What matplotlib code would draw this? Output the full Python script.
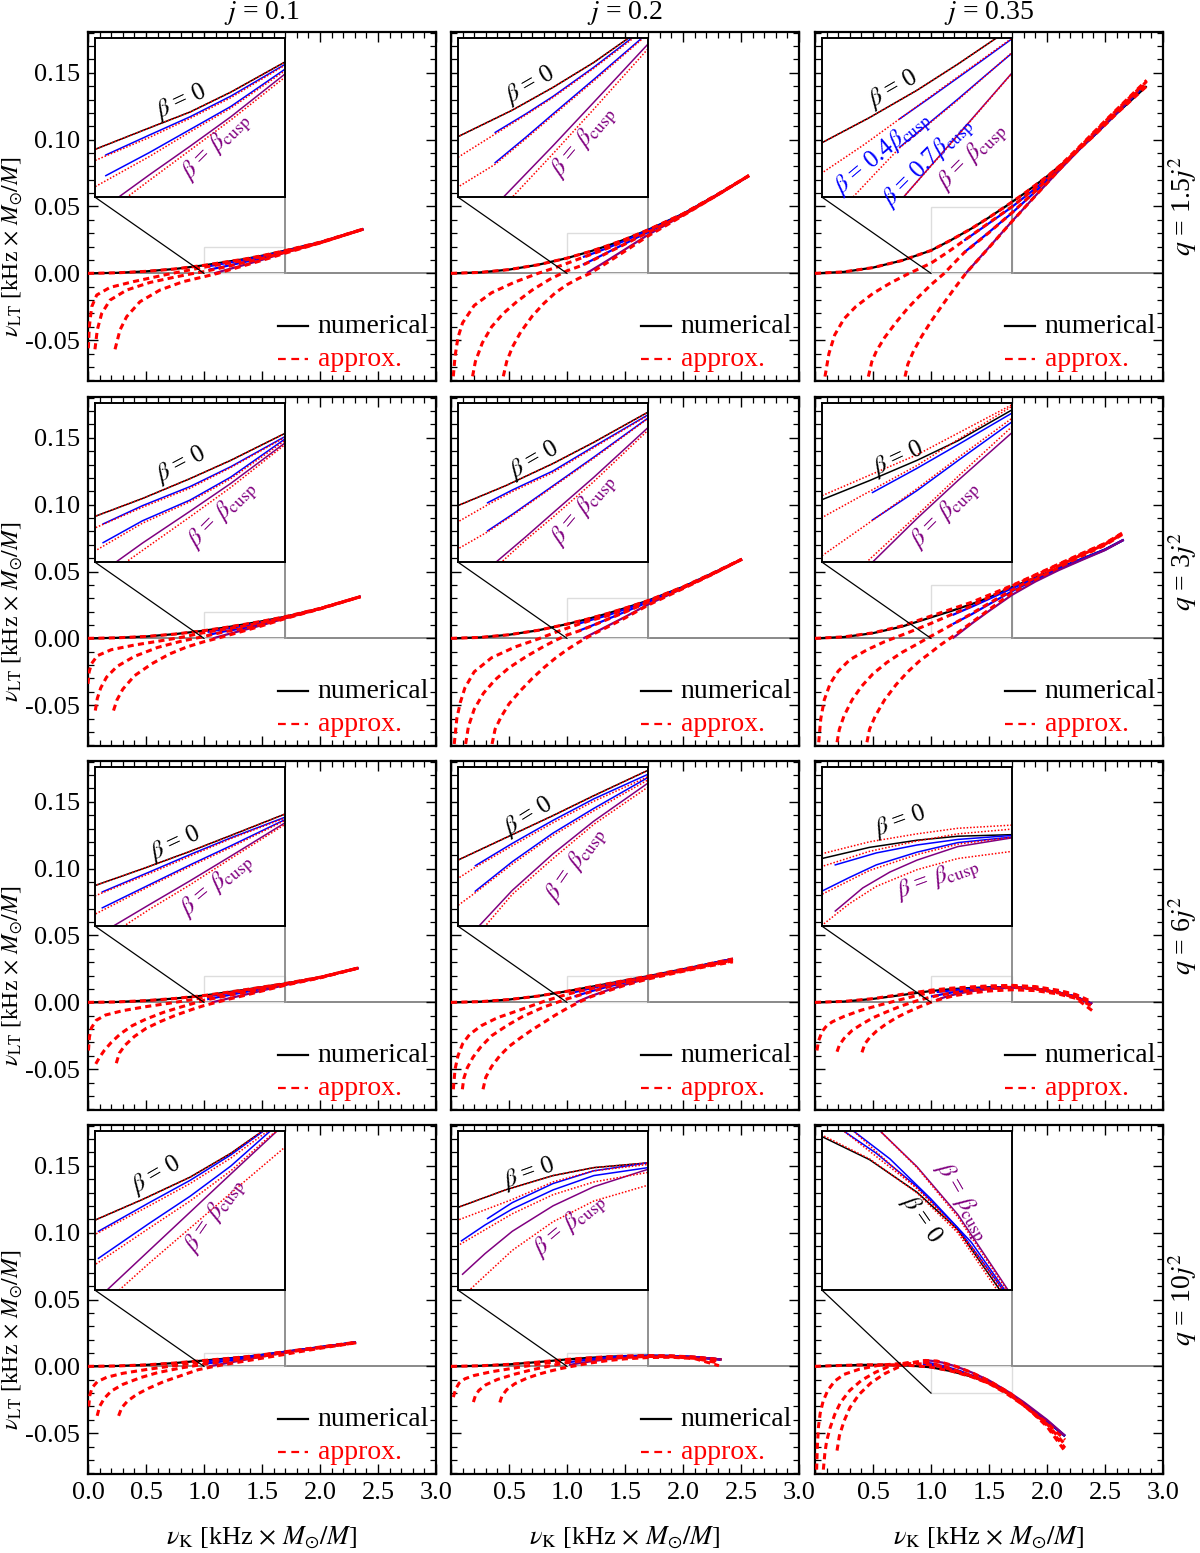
import matplotlib
matplotlib.use('Agg')
import matplotlib.pyplot as plt
from matplotlib.ticker import MultipleLocator, FuncFormatter
from matplotlib.patches import Rectangle
import numpy as np

plt.rcParams['font.family'] = ['Liberation Serif', 'DejaVu Serif']
plt.rcParams['mathtext.fontset'] = 'stix'
plt.rcParams['axes.unicode_minus'] = False

# ---------------- data (nu_K, nu_LT) ----------------
COL_TITLES = [r'$j$ = 0.1', r'$j$ = 0.2', r'$j$ = 0.35']
ROW_TITLES = [r'$q$ = 1.5$j^2$', r'$q$ = 3$j^2$', r'$q$ = 6$j^2$', r'$q$ = 10$j^2$']
YTICKS = [-0.05, 0.0, 0.05, 0.10, 0.15]
XTICKS = [0.0, 0.5, 1.0, 1.5, 2.0, 2.5, 3.0]

# ---- row 1: q = 1.5 j^2 ----
P11_N0 = [(0,0),(0.25,0.0004),(0.5,0.0015),(0.75,0.0033),(1.0,0.0060),(1.2,0.0087),(1.35,0.0107),(1.5,0.0132),(1.7,0.0170),(2.0,0.0233),(2.374,0.0331)]
P11_N1 = [(1.04,0.0053),(1.2,0.0078),(1.35,0.0101),(1.5,0.0127),(1.7,0.0167),(2.0,0.0231),(2.374,0.0331)]
P11_N2 = [(1.04,0.0027),(1.2,0.0056),(1.35,0.0085),(1.5,0.0114),(1.7,0.0161),(2.0,0.0229),(2.374,0.0331)]
P11_N3 = [(1.087,0.0),(1.2,0.0028),(1.35,0.0064),(1.5,0.0101),(1.7,0.0155),(2.0,0.0228),(2.374,0.0331)]
P11_A0 = P11_N0
P11_A1 = [(0.003,-0.056),(0.011,-0.040),(0.032,-0.025),(0.075,-0.0162),(0.19,-0.0105),(0.39,-0.0062),(0.68,-0.0008),(0.85,0.0021),(1.0,0.0046),(1.2,0.0075),(1.35,0.0099),(1.5,0.0125),(1.7,0.0166),(2.0,0.0230),(2.374,0.0331)]
P11_A2 = [(0.06,-0.0568),(0.08,-0.0423),(0.118,-0.030),(0.19,-0.020),(0.333,-0.0125),(0.534,-0.0068),(0.764,-0.0025),(0.9,-0.0002),(1.0,0.0013),(1.2,0.0051),(1.35,0.0082),(1.5,0.0112),(1.7,0.0159),(2.0,0.0228),(2.374,0.0331)]
P11_A3 = [(0.233,-0.0568),(0.276,-0.0423),(0.333,-0.0324),(0.448,-0.0212),(0.62,-0.0125),(0.82,-0.0062),(1.0,-0.0025),(1.118,0.0),(1.2,0.0021),(1.35,0.0059),(1.5,0.0097),(1.7,0.0151),(2.0,0.0227),(2.374,0.0331)]

P12_N0 = [(0,0),(0.25,0.0007),(0.5,0.0028),(0.75,0.0064),(1.0,0.0114),(1.2,0.0164),(1.35,0.0207),(1.5,0.0254),(1.7,0.0326),(2.0,0.0445),(2.3,0.0592),(2.569,0.0730)]
P12_N1 = [(1.137,0.0122),(1.25,0.0157),(1.35,0.0190),(1.5,0.0245),(1.64,0.0300),(1.7,0.0322),(2.0,0.0443),(2.3,0.0590),(2.569,0.0730)]
P12_N2 = [(1.137,0.0065),(1.25,0.0113),(1.35,0.0157),(1.5,0.0222),(1.677,0.0300),(1.7,0.0310),(2.0,0.0438),(2.3,0.0588),(2.569,0.0730)]
P12_N3 = [(1.171,0.0002),(1.35,0.0097),(1.5,0.0179),(1.7,0.0289),(2.0,0.0435),(2.3,0.0587),(2.569,0.0730)]
P12_A0 = P12_N0
P12_A1 = [(0.02,-0.077),(0.035,-0.062),(0.06,-0.048),(0.1,-0.037),(0.2,-0.024),(0.35,-0.0145),(0.55,-0.0065),(0.75,0.0),(0.9,0.0043),(1.0,0.0075),(1.137,0.0119),(1.25,0.0155),(1.35,0.0188),(1.5,0.0243),(1.7,0.0321),(2.0,0.0443),(2.3,0.0590),(2.569,0.0732)]
P12_A2 = [(0.186,-0.077),(0.21,-0.066),(0.27,-0.052),(0.35,-0.040),(0.45,-0.030),(0.57,-0.021),(0.7,-0.0125),(0.85,-0.0045),(1.0,0.0019),(1.137,0.0062),(1.25,0.0110),(1.35,0.0154),(1.5,0.0219),(1.7,0.0308),(2.0,0.0437),(2.3,0.0588),(2.569,0.0732)]
P12_A3 = [(0.451,-0.077),(0.48,-0.066),(0.53,-0.055),(0.6,-0.044),(0.7,-0.032),(0.8,-0.0225),(0.9,-0.0145),(1.0,-0.0085),(1.1,-0.0038),(1.2,0.0),(1.35,0.0082),(1.5,0.0166),(1.7,0.0280),(2.0,0.0432),(2.3,0.0587),(2.569,0.0732)]

P13_N0 = [(0,0),(0.25,0.0011),(0.5,0.0043),(0.75,0.0096),(1.0,0.0171),(1.175,0.0250),(1.35,0.0336),(1.5,0.0418),(1.642,0.0500),(1.8,0.0595),(2.0,0.0725),(2.2,0.0868),(2.4,0.1025),(2.6,0.1195),(2.859,0.1400)]
P13_N1 = [(1.286,0.0246),(1.4,0.0314),(1.5,0.0375),(1.6,0.0436),(1.7,0.0498),(1.9,0.0635),(2.1,0.0785),(2.3,0.0950),(2.5,0.1115),(2.80,0.1370)]
P13_N2 = [(1.286,0.0157),(1.4,0.0237),(1.5,0.0308),(1.6,0.0381),(1.7,0.0453),(1.9,0.0612),(2.1,0.0775),(2.3,0.0945),(2.5,0.1112),(2.80,0.1368)]
P13_N3 = [(1.30,0.0),(1.4,0.0098),(1.5,0.0195),(1.6,0.0293),(1.7,0.0391),(1.9,0.0580),(2.1,0.0765),(2.3,0.0945),(2.5,0.1112),(2.79,0.1365)]
P13_A0 = P13_N0
P13_A1 = [(0.086,-0.0772),(0.12,-0.060),(0.17,-0.046),(0.25,-0.034),(0.35,-0.025),(0.5,-0.0150),(0.65,-0.0072),(0.8,-0.0005),(1.0,0.0076),(1.15,0.0162),(1.286,0.0246),(1.5,0.0378),(1.7,0.0500),(1.9,0.0640),(2.1,0.0795),(2.3,0.0965),(2.5,0.1140),(2.7,0.1310),(2.859,0.1444)]
P13_A2 = [(0.46,-0.0772),(0.49,-0.066),(0.53,-0.058),(0.6,-0.048),(0.7,-0.0365),(0.8,-0.026),(0.9,-0.017),(1.0,-0.0085),(1.114,0.0),(1.2,0.0078),(1.286,0.0155),(1.5,0.0305),(1.7,0.0455),(1.9,0.0615),(2.1,0.0785),(2.3,0.0960),(2.5,0.1135),(2.7,0.1305),(2.859,0.1435)]
P13_A3 = [(0.776,-0.0772),(0.8,-0.068),(0.85,-0.058),(0.92,-0.047),(1.0,-0.036),(1.1,-0.0235),(1.2,-0.0115),(1.3,0.0),(1.5,0.0193),(1.7,0.0390),(1.9,0.0580),(2.1,0.0770),(2.3,0.0950),(2.5,0.1125),(2.7,0.1295),(2.859,0.1425)]

# ---- row 2: q = 3 j^2 ----
P21_N0 = [(0,0),(0.25,0.0004),(0.5,0.0014),(0.75,0.0032),(1.0,0.00575),(1.175,0.0080),(1.35,0.0105),(1.5,0.0128),(1.7,0.0162),(2.0,0.0224),(2.35,0.0312)]
P21_N1 = [(1.03,0.0048),(1.175,0.0071),(1.35,0.0095),(1.5,0.0120),(1.7,0.0158),(2.0,0.0222),(2.35,0.0312)]
P21_N2 = [(1.03,0.00245),(1.175,0.0052),(1.35,0.0078),(1.5,0.0107),(1.7,0.0155),(2.0,0.0221),(2.35,0.0312)]
P21_N3 = [(1.077,0.0),(1.175,0.0024),(1.35,0.0064),(1.5,0.0099),(1.7,0.0150),(2.0,0.0221),(2.35,0.0312)]
P21_A0 = P21_N0
P21_A1 = [(0.0,-0.034),(0.01,-0.025),(0.03,-0.019),(0.08,-0.013),(0.2,-0.0085),(0.4,-0.0050),(0.6,-0.0022),(0.8,0.0007),(1.0,0.0043),(1.175,0.0069),(1.35,0.0093),(1.5,0.0119),(1.7,0.0157),(2.0,0.0222),(2.35,0.0312)]
P21_A2 = [(0.063,-0.054),(0.08,-0.045),(0.11,-0.037),(0.16,-0.029),(0.25,-0.021),(0.4,-0.0135),(0.6,-0.0068),(0.8,-0.0022),(1.0,0.0014),(1.175,0.0049),(1.35,0.0076),(1.5,0.0105),(1.7,0.0153),(2.0,0.0221),(2.35,0.0312)]
P21_A3 = [(0.22,-0.054),(0.25,-0.046),(0.3,-0.038),(0.4,-0.028),(0.55,-0.019),(0.7,-0.0118),(0.85,-0.0065),(1.0,-0.0025),(1.114,0.0),(1.35,0.0057),(1.5,0.0094),(1.7,0.0148),(2.0,0.0220),(2.35,0.0312)]

P22_N0 = [(0,0),(0.25,0.0007),(0.5,0.0027),(0.75,0.0060),(1.0,0.01066),(1.175,0.0144),(1.35,0.0186),(1.5,0.0226),(1.7,0.0283),(2.0,0.0385),(2.25,0.0485),(2.508,0.0592)]
P22_N1 = [(1.109,0.0112),(1.2,0.0136),(1.35,0.0172),(1.5,0.0218),(1.7,0.0278),(2.0,0.0381),(2.25,0.0482),(2.508,0.0592)]
P22_N2 = [(1.109,0.0059),(1.2,0.0090),(1.35,0.0144),(1.5,0.0198),(1.7,0.0272),(2.0,0.0378),(2.25,0.0480),(2.508,0.0592)]
P22_N3 = [(1.14,0.0),(1.25,0.0048),(1.35,0.0093),(1.5,0.0160),(1.7,0.0254),(2.0,0.0375),(2.25,0.0478),(2.508,0.0592)]
P22_A0 = P22_N0
P22_A1 = [(0.028,-0.079),(0.05,-0.060),(0.08,-0.048),(0.12,-0.037),(0.2,-0.025),(0.35,-0.0145),(0.55,-0.0065),(0.75,-0.0005),(0.9,0.0045),(1.0,0.0076),(1.109,0.0108),(1.2,0.0133),(1.35,0.0169),(1.5,0.0216),(1.7,0.0277),(2.0,0.0381),(2.25,0.0482),(2.508,0.0592)]
P22_A2 = [(0.126,-0.079),(0.15,-0.066),(0.2,-0.053),(0.28,-0.041),(0.38,-0.031),(0.5,-0.022),(0.65,-0.0135),(0.8,-0.006),(0.9,-0.0015),(1.0,0.0025),(1.109,0.0057),(1.2,0.0088),(1.35,0.0142),(1.5,0.0196),(1.7,0.0271),(2.0,0.0378),(2.25,0.0480),(2.508,0.0592)]
P22_A3 = [(0.354,-0.079),(0.38,-0.068),(0.43,-0.059),(0.5,-0.049),(0.6,-0.039),(0.7,-0.030),(0.8,-0.022),(0.9,-0.0148),(1.0,-0.0085),(1.08,-0.0040),(1.16,0.0),(1.25,0.0042),(1.35,0.0085),(1.5,0.0152),(1.7,0.0249),(2.0,0.0372),(2.25,0.0477),(2.508,0.0592)]

P23_N0 = [(0,0),(0.25,0.0010),(0.5,0.0039),(0.75,0.0088),(1.0,0.0157),(1.175,0.0205),(1.35,0.0256),(1.5,0.0305),(1.7,0.0383),(1.9,0.0455),(2.1,0.0525),(2.3,0.0595),(2.5,0.0665),(2.661,0.0737)]
P23_N1 = [(1.186,0.0175),(1.35,0.0236),(1.5,0.0295),(1.7,0.0375),(1.9,0.0450),(2.1,0.0522),(2.3,0.0593),(2.5,0.0664),(2.661,0.0737)]
P23_N2 = [(1.186,0.0106),(1.35,0.0180),(1.5,0.0255),(1.7,0.0353),(1.9,0.0440),(2.1,0.0517),(2.3,0.0590),(2.5,0.0662),(2.661,0.0737)]
P23_N3 = [(1.186,0.0),(1.35,0.0110),(1.5,0.0205),(1.7,0.0326),(1.9,0.0425),(2.1,0.0510),(2.3,0.0586),(2.5,0.0660),(2.661,0.0737)]
P23_A0 = [(0,0),(0.25,0.0011),(0.5,0.0041),(0.75,0.0093),(1.0,0.0167),(1.35,0.0270),(1.7,0.0396),(1.9,0.0475),(2.1,0.0555),(2.3,0.0635),(2.5,0.0710),(2.647,0.0787)]
P23_A1 = [(0.032,-0.0777),(0.05,-0.060),(0.08,-0.046),(0.13,-0.034),(0.2,-0.0245),(0.3,-0.016),(0.45,-0.0085),(0.6,-0.0025),(0.8,0.0042),(1.0,0.0112),(1.186,0.0182),(1.35,0.0243),(1.5,0.0308),(1.7,0.0392),(1.9,0.0472),(2.1,0.0552),(2.3,0.0632),(2.5,0.0708),(2.647,0.0784)]
P23_A2 = [(0.19,-0.0777),(0.21,-0.068),(0.25,-0.058),(0.32,-0.046),(0.4,-0.036),(0.5,-0.0265),(0.62,-0.018),(0.75,-0.0105),(0.88,-0.0043),(1.0,0.0016),(1.186,0.0105),(1.35,0.0185),(1.5,0.0262),(1.7,0.0362),(1.9,0.0455),(2.1,0.0542),(2.3,0.0625),(2.5,0.0703),(2.647,0.0780)]
P23_A3 = [(0.448,-0.0777),(0.47,-0.068),(0.52,-0.058),(0.6,-0.046),(0.7,-0.0345),(0.8,-0.025),(0.9,-0.017),(1.0,-0.0105),(1.08,-0.005),(1.164,0.0),(1.35,0.0118),(1.5,0.0215),(1.7,0.0341),(1.9,0.0440),(2.1,0.0530),(2.3,0.0615),(2.5,0.0697),(2.647,0.0776)]

# ---- row 3: q = 6 j^2 ----
P31_N0 = [(0,0),(0.25,0.0003),(0.5,0.0013),(0.75,0.0029),(1.0,0.0051),(1.175,0.0072),(1.35,0.0094),(1.5,0.0114),(1.7,0.0141),(2.0,0.0188),(2.331,0.0257)]
P31_N1 = [(1.027,0.0043),(1.2,0.0068),(1.35,0.0090),(1.5,0.0111),(1.7,0.0137),(2.0,0.0186),(2.331,0.0257)]
P31_N2 = [(1.027,0.0023),(1.2,0.0052),(1.35,0.0077),(1.5,0.0101),(1.7,0.0134),(2.0,0.0185),(2.331,0.0257)]
P31_N3 = [(1.067,0.0),(1.2,0.0027),(1.35,0.0057),(1.5,0.0088),(1.7,0.0130),(2.0,0.0184),(2.331,0.0257)]
P31_A0 = P31_N0
P31_A1 = [(0.004,-0.036),(0.012,-0.026),(0.03,-0.019),(0.07,-0.0135),(0.15,-0.0095),(0.3,-0.0062),(0.5,-0.0032),(0.75,0.0),(0.9,0.0021),(1.0,0.0038),(1.2,0.0066),(1.35,0.0088),(1.5,0.0110),(1.7,0.0136),(2.0,0.0186),(2.331,0.0257)]
P31_A2 = [(0.067,-0.046),(0.1,-0.041),(0.14,-0.036),(0.2,-0.030),(0.28,-0.0235),(0.38,-0.0175),(0.5,-0.0125),(0.65,-0.0075),(0.8,-0.0035),(0.9,-0.0010),(1.0,0.0015),(1.2,0.0050),(1.35,0.0075),(1.5,0.0099),(1.7,0.0133),(2.0,0.0185),(2.331,0.0257)]
P31_A3 = [(0.244,-0.0455),(0.27,-0.038),(0.32,-0.032),(0.4,-0.0255),(0.5,-0.0195),(0.62,-0.0145),(0.75,-0.0098),(0.9,-0.0052),(1.0,-0.0024),(1.106,0.0),(1.2,0.0021),(1.35,0.0052),(1.5,0.0085),(1.7,0.0128),(2.0,0.0183),(2.331,0.0257)]

P32_N0 = [(0,0),(0.25,0.0005),(0.5,0.0021),(0.75,0.0047),(1.0,0.0083),(1.175,0.0111),(1.35,0.0139),(1.5,0.0164),(1.7,0.0196),(2.0,0.0248),(2.2,0.0284),(2.43,0.0325)]
P32_N1 = [(1.064,0.0076),(1.2,0.0104),(1.35,0.0133),(1.5,0.0160),(1.7,0.0191),(2.0,0.0244),(2.2,0.0282),(2.43,0.0325)]
P32_N2 = [(1.064,0.0044),(1.2,0.0081),(1.35,0.0117),(1.5,0.0148),(1.7,0.0187),(2.0,0.0243),(2.2,0.0281),(2.43,0.0325)]
P32_N3 = [(1.077,0.0),(1.2,0.0045),(1.35,0.0091),(1.5,0.0132),(1.7,0.0180),(2.0,0.0240),(2.2,0.0280),(2.43,0.0325)]
P32_A0 = P32_N0
P32_A1 = [(0.02,-0.065),(0.035,-0.050),(0.06,-0.040),(0.1,-0.031),(0.16,-0.024),(0.26,-0.0175),(0.4,-0.0115),(0.6,-0.0055),(0.8,0.0007),(1.0,0.0060),(1.064,0.0074),(1.2,0.0101),(1.35,0.0130),(1.5,0.0157),(1.7,0.0188),(2.0,0.0238),(2.2,0.0275),(2.43,0.0315)]
P32_A2 = [(0.098,-0.065),(0.11,-0.057),(0.14,-0.049),(0.19,-0.041),(0.26,-0.033),(0.35,-0.025),(0.48,-0.0175),(0.62,-0.0105),(0.8,-0.0035),(1.0,0.0026),(1.064,0.0042),(1.2,0.0078),(1.35,0.0114),(1.5,0.0145),(1.7,0.0184),(2.0,0.0236),(2.2,0.0272),(2.43,0.0310)]
P32_A3 = [(0.276,-0.065),(0.3,-0.056),(0.35,-0.048),(0.42,-0.040),(0.5,-0.033),(0.6,-0.0265),(0.7,-0.0205),(0.8,-0.015),(0.9,-0.0095),(1.0,-0.0045),(1.1,0.0),(1.2,0.0040),(1.35,0.0085),(1.5,0.0128),(1.7,0.0175),(2.0,0.0232),(2.2,0.0268),(2.43,0.0303)]

P33_N0 = [(0,0),(0.25,0.0006),(0.5,0.0026),(0.75,0.0055),(0.9,0.0073),(1.0,0.0085),(1.175,0.0099),(1.35,0.0108),(1.5,0.0113),(1.7,0.0115),(1.9,0.0105),(2.1,0.0075),(2.25,0.0042),(2.388,-0.0012)]
P33_N1 = [(1.049,0.0077),(1.2,0.0092),(1.35,0.0102),(1.5,0.0109),(1.7,0.0114),(1.9,0.0104),(2.1,0.0074),(2.25,0.0042),(2.388,-0.0012)]
P33_N2 = [(1.0,0.0044),(1.1,0.0061),(1.2,0.0077),(1.35,0.0093),(1.5,0.0105),(1.7,0.0112),(1.9,0.0103),(2.1,0.0074),(2.25,0.0042),(2.388,-0.0012)]
P33_N3 = [(1.049,0.0019),(1.15,0.0048),(1.25,0.0068),(1.35,0.0083),(1.5,0.0100),(1.7,0.0111),(1.9,0.0102),(2.1,0.0073),(2.25,0.0041),(2.388,-0.0012)]
P33_A0 = [(0,0),(0.25,0.0007),(0.5,0.0028),(0.75,0.0060),(1.0,0.0091),(1.175,0.0106),(1.35,0.0116),(1.5,0.0123),(1.7,0.0127),(1.9,0.0118),(2.1,0.0090),(2.25,0.0058),(2.39,0.0004)]
P33_A1 = [(0.017,-0.036),(0.03,-0.029),(0.06,-0.022),(0.1,-0.0175),(0.15,-0.0145),(0.25,-0.0105),(0.4,-0.0058),(0.55,-0.0022),(0.7,0.0012),(0.85,0.0045),(1.0,0.0075),(1.175,0.0094),(1.35,0.0107),(1.5,0.0116),(1.7,0.0122),(1.9,0.0112),(2.1,0.0082),(2.25,0.0050),(2.39,-0.0010)]
P33_A2 = [(0.19,-0.0369),(0.21,-0.032),(0.25,-0.027),(0.32,-0.021),(0.4,-0.0165),(0.5,-0.0115),(0.62,-0.0070),(0.75,-0.0025),(0.88,0.0012),(1.0,0.0040),(1.175,0.0070),(1.35,0.0090),(1.5,0.0103),(1.7,0.0112),(1.9,0.0100),(2.1,0.0070),(2.25,0.0035),(2.39,-0.0030)]
P33_A3 = [(0.405,-0.0374),(0.43,-0.031),(0.47,-0.0265),(0.53,-0.0215),(0.6,-0.017),(0.7,-0.0115),(0.8,-0.0072),(0.9,-0.0034),(1.0,0.0001),(1.1,0.0028),(1.2,0.0050),(1.35,0.0071),(1.5,0.0085),(1.7,0.0094),(1.9,0.0088),(2.1,0.0062),(2.25,0.0030),(2.39,-0.0062)]

# ---- row 4: q = 10 j^2 ----
P41_N0 = [(0,0),(0.25,0.0003),(0.5,0.0011),(0.75,0.0025),(1.0,0.0044),(1.175,0.0057),(1.35,0.0071),(1.5,0.0086),(1.6,0.0098),(1.8,0.0121),(2.05,0.0150),(2.311,0.0180)]
P41_N1 = [(1.013,0.0037),(1.2,0.0055),(1.35,0.0069),(1.5,0.0085),(1.62,0.0100),(1.8,0.0120),(2.05,0.0149),(2.311,0.0180)]
P41_N2 = [(1.013,0.0020),(1.2,0.0042),(1.35,0.0059),(1.5,0.0078),(1.645,0.0100),(1.8,0.0119),(2.05,0.0148),(2.311,0.0180)]
P41_N3 = [(1.044,0.0),(1.2,0.0025),(1.35,0.0049),(1.5,0.0073),(1.67,0.0100),(1.8,0.0117),(2.05,0.0147),(2.311,0.0180)]
P41_A0 = P41_N0
P41_A1 = [(0.006,-0.030),(0.015,-0.022),(0.035,-0.016),(0.08,-0.0115),(0.16,-0.0082),(0.3,-0.0052),(0.5,-0.0024),(0.75,0.0006),(1.0,0.0035),(1.2,0.0053),(1.35,0.0067),(1.5,0.0083),(1.62,0.0098),(1.8,0.0118),(2.05,0.0147),(2.311,0.0178)]
P41_A2 = [(0.079,-0.037),(0.1,-0.030),(0.14,-0.024),(0.2,-0.0185),(0.3,-0.0135),(0.45,-0.0085),(0.6,-0.0047),(0.8,-0.0012),(1.0,0.0016),(1.2,0.0039),(1.35,0.0056),(1.5,0.0075),(1.645,0.0097),(1.8,0.0116),(2.05,0.0146),(2.311,0.0177)]
P41_A3 = [(0.264,-0.037),(0.29,-0.031),(0.34,-0.026),(0.42,-0.021),(0.52,-0.0165),(0.65,-0.0115),(0.8,-0.0070),(0.95,-0.0025),(1.089,0.0),(1.2,0.0017),(1.35,0.0039),(1.5,0.0061),(1.7,0.0090),(1.8,0.0106),(2.05,0.0142),(2.311,0.0176)]

P42_N0 = [(0,0),(0.25,0.0004),(0.5,0.0015),(0.75,0.0032),(1.0,0.0052),(1.175,0.0063),(1.35,0.0072),(1.5,0.0077),(1.7,0.0080),(1.9,0.0078),(2.1,0.0070),(2.331,0.0051)]
P42_N1 = [(1.109,0.0045),(1.2,0.0055),(1.35,0.0067),(1.5,0.0075),(1.7,0.0080),(1.9,0.0078),(2.1,0.0070),(2.331,0.0051)]
P42_N2 = [(1.013,0.0031),(1.1,0.0041),(1.2,0.0051),(1.35,0.0063),(1.5,0.0072),(1.7,0.0077),(1.9,0.0077),(2.1,0.0069),(2.331,0.0051)]
P42_N3 = [(1.017,0.0010),(1.1,0.0023),(1.2,0.0037),(1.35,0.0053),(1.5,0.0065),(1.7,0.0076),(1.9,0.0076),(2.1,0.0069),(2.331,0.0051)]
P42_A0 = P42_N0
P42_A1 = [(0.02,-0.023),(0.04,-0.017),(0.07,-0.0125),(0.12,-0.0093),(0.2,-0.0068),(0.35,-0.0040),(0.55,-0.0012),(0.75,0.0016),(1.0,0.0044),(1.2,0.0057),(1.35,0.0068),(1.5,0.0075),(1.7,0.0079),(1.9,0.0077),(2.1,0.0067),(2.32,0.0040)]
P42_A2 = [(0.193,-0.0267),(0.21,-0.022),(0.24,-0.018),(0.3,-0.0138),(0.4,-0.0098),(0.55,-0.0058),(0.7,-0.0025),(0.85,0.0003),(1.0,0.0028),(1.2,0.0048),(1.35,0.0060),(1.5,0.0068),(1.7,0.0074),(1.9,0.0072),(2.1,0.0060),(2.31,0.0025)]
P42_A3 = [(0.421,-0.027),(0.44,-0.022),(0.48,-0.0175),(0.55,-0.013),(0.65,-0.0090),(0.75,-0.0060),(0.85,-0.0036),(0.95,-0.0016),(1.042,0.0),(1.2,0.0025),(1.35,0.0043),(1.5,0.0056),(1.7,0.0066),(1.9,0.0068),(2.1,0.0058),(2.31,0.0005)]

P43_N0 = [(0,0),(0.2,0.0006),(0.4,0.0011),(0.6,0.0012),(0.8,0.0007),(1.0,-0.0007),(1.175,-0.0036),(1.35,-0.0077),(1.5,-0.0124),(1.655,-0.0200),(1.8,-0.0285),(2.0,-0.0410),(2.155,-0.0523)]
P43_N1 = [(0.93,0.0018),(1.0,0.0012),(1.08,0.0),(1.2,-0.0028),(1.35,-0.0070),(1.5,-0.0122),(1.667,-0.0200),(1.8,-0.0280),(2.0,-0.0408),(2.155,-0.0520)]
P43_N2 = [(0.93,0.0030),(1.0,0.0022),(1.116,0.0),(1.25,-0.0035),(1.4,-0.0085),(1.55,-0.0140),(1.673,-0.0200),(1.8,-0.0275),(2.0,-0.0405),(2.155,-0.0520)]
P43_N3 = [(0.93,0.0045),(1.0,0.0042),(1.1,0.0028),(1.214,0.0),(1.35,-0.0045),(1.5,-0.0105),(1.685,-0.0200),(1.8,-0.0268),(2.0,-0.0400),(2.155,-0.0518)]
P43_A0 = [(0,0),(0.2,0.0006),(0.4,0.0011),(0.6,0.0012),(0.8,0.0008),(1.0,-0.0005),(1.175,-0.0035),(1.35,-0.0078),(1.5,-0.0128),(1.645,-0.0200),(1.8,-0.0292),(2.0,-0.0422),(2.155,-0.0550)]
P43_A1 = [(0.012,-0.085),(0.014,-0.0772),(0.02,-0.060),(0.03,-0.045),(0.045,-0.035),(0.07,-0.026),(0.11,-0.018),(0.17,-0.011),(0.25,-0.006),(0.38,-0.0022),(0.55,0.0008),(0.75,0.0022),(0.93,0.0018),(1.08,0.0),(1.35,-0.0072),(1.5,-0.0125),(1.66,-0.0200),(1.8,-0.0292),(2.0,-0.0430),(2.155,-0.0585)]
P43_A2 = [(0.068,-0.085),(0.072,-0.0772),(0.085,-0.065),(0.1,-0.056),(0.13,-0.046),(0.17,-0.036),(0.22,-0.027),(0.3,-0.018),(0.4,-0.0105),(0.52,-0.0045),(0.65,0.0005),(0.8,0.0028),(0.93,0.0030),(1.0,0.0022),(1.116,0.0),(1.4,-0.0088),(1.55,-0.0145),(1.67,-0.0200),(1.8,-0.0290),(2.0,-0.0440),(2.155,-0.0610)]
P43_A3 = [(0.19,-0.063),(0.21,-0.052),(0.25,-0.041),(0.3,-0.031),(0.38,-0.021),(0.48,-0.0125),(0.6,-0.0055),(0.72,-0.0005),(0.85,0.0030),(0.95,0.0044),(1.05,0.0040),(1.214,0.0),(1.35,-0.0046),(1.5,-0.0108),(1.68,-0.0200),(1.8,-0.0285),(2.0,-0.0450),(2.155,-0.0635)]

# zoomed y-range of each inset (x range is 1.0 - 1.7 everywhere)
ZOOM_Y = [[(0, 0.02), (0, 0.03), (0, 0.05)],
          [(0, 0.02), (0, 0.03), (0, 0.04)],
          [(0, 0.02), (0, 0.02), (0, 0.02)],
          [(0, 0.01), (0, 0.01), (-0.02, 0)]]

# panels that carry the "numerical / approx." key
HAS_KEY = [[True, True, True], [True, True, True], [True, True, True], [True, True, False]]

PURPLE = '#800080'
BC = r'$\beta$ = $\beta_{\rm cusp}$'
B0 = r'$\beta$ = 0'
# (text, colour, x-frac, y-frac, rotation) in inset axes fraction
LABELS = [
    [[(B0, 'k', 0.45, 0.60, 25), (BC, PURPLE, 0.64, 0.31, 45)],
     [(B0, 'k', 0.38, 0.70, 30), (BC, PURPLE, 0.66, 0.34, 50)],
     [(B0, 'k', 0.37, 0.68, 30), (r'$\beta$ = 0.4$\beta_{\rm cusp}$', 'blue', 0.32, 0.27, 40),
      (r'$\beta$ = 0.7$\beta_{\rm cusp}$', 'blue', 0.56, 0.21, 45), (BC, PURPLE, 0.79, 0.25, 45)]],
    [[(B0, 'k', 0.45, 0.61, 28), (BC, PURPLE, 0.67, 0.29, 45)],
     [(B0, 'k', 0.40, 0.64, 30), (BC, PURPLE, 0.66, 0.32, 50)],
     [(B0, 'k', 0.40, 0.65, 25), (BC, PURPLE, 0.65, 0.29, 45)]],
    [[(B0, 'k', 0.42, 0.52, 25), (BC, PURPLE, 0.64, 0.25, 40)],
     [(B0, 'k', 0.37, 0.69, 32), (BC, PURPLE, 0.62, 0.38, 55)],
     [(B0, 'k', 0.41, 0.66, 20), (BC, PURPLE, 0.61, 0.29, 20)]],
    [[(B0, 'k', 0.32, 0.72, 30), (BC, PURPLE, 0.63, 0.46, 55)],
     [(B0, 'k', 0.37, 0.73, 20), (BC, PURPLE, 0.59, 0.40, 40)],
     [(B0, 'k', 0.52, 0.45, -55), (BC, PURPLE, 0.73, 0.56, -60)]],
]

G = globals()
NUM_COLORS = ['k', 'blue', 'blue', PURPLE]

fig = plt.figure(figsize=(12, 15.53), dpi=100)
LEFTS = [88, 451, 815]
TOPS = [32, 397, 761, 1125]
W, H = 348, 349
FS = 19
DASH = (0, (2.0, 1.4))

def arr(p):
    a = np.array(p, dtype=float)
    return a[:, 0], a[:, 1]

for r in range(4):
    for c in range(3):
        key = 'P%d%d' % (r + 1, c + 1)
        nums = [G[key + '_N%d' % k] for k in range(4)]
        apps = [G[key + '_A%d' % k] for k in range(4)]
        ax = fig.add_axes([LEFTS[c] / 1200, 1 - (TOPS[r] + H) / 1553, W / 1200, H / 1553])
        ax.set_xlim(0, 3)
        ax.set_ylim(-0.0805, 0.1805)
        ax.axhline(0, color='#808080', lw=1.3, zorder=1)
        for k, pts in enumerate(nums):
            x, y = arr(pts)
            ax.plot(x, y, color=NUM_COLORS[k], lw=1.6, zorder=3, solid_capstyle='butt')
        for pts in apps:
            x, y = arr(pts)
            ax.plot(x, y, color='red', lw=2.2, ls=DASH, zorder=4)
        ylo, yhi = ZOOM_Y[r][c]
        ax.add_patch(Rectangle((1.0, ylo), 0.7, yhi - ylo, fill=False, ec='#dddddd', lw=1.0, zorder=2))
        ax.plot([0.06, 1.0], [0.057, ylo], color='k', lw=0.9, zorder=5)
        ax.plot([1.7, 1.7], [0.057, 0.0], color='#888888', lw=1.3, zorder=2)

        ax.xaxis.set_major_locator(MultipleLocator(0.5))
        ax.xaxis.set_minor_locator(MultipleLocator(0.1))
        ax.yaxis.set_major_locator(MultipleLocator(0.05))
        ax.yaxis.set_minor_locator(MultipleLocator(0.01))
        ax.tick_params(which='both', direction='in', top=True, right=True, labelsize=FS, pad=6)
        ax.tick_params(which='major', length=7, width=1.0)
        ax.tick_params(which='minor', length=4, width=0.9)
        for s in ax.spines.values():
            s.set_linewidth(1.6)
        if c == 0:
            ax.yaxis.set_major_formatter(FuncFormatter(lambda v, p: '%.2f' % v if abs(v) > 1e-9 else '0.00'))
        else:
            ax.set_yticklabels([])
        if r == 3:
            if c == 0:
                ax.xaxis.set_major_formatter(FuncFormatter(lambda v, p: '%.1f' % v))
            else:
                ax.xaxis.set_major_formatter(FuncFormatter(lambda v, p: '' if abs(v) < 1e-9 else '%.1f' % v))
        else:
            ax.set_xticklabels([])

        # key
        if HAS_KEY[r][c]:
            ax.plot([0.546, 0.632], [0.157, 0.157], color='k', lw=1.6, transform=ax.transAxes)
            ax.plot([0.546, 0.632], [0.062, 0.062], color='red', lw=1.6, ls=(0, (3.5, 2.5)), transform=ax.transAxes)
            ax.text(0.66, 0.157, 'numerical', color='k', fontsize=20, va='center', ha='left', transform=ax.transAxes)
            ax.text(0.66, 0.062, 'approx.', color='red', fontsize=20, va='center', ha='left', transform=ax.transAxes)

        # inset
        iax = ax.inset_axes([0.06, 0.057, 1.64, 0.119], transform=ax.transData, zorder=6)
        for k, pts in enumerate(nums):
            x, y = arr(pts)
            iax.plot(x, y, color=NUM_COLORS[k], lw=1.1)
        for pts in apps:
            x, y = arr(pts)
            iax.plot(x, y, color='red', lw=1.1, ls=(0, (1.0, 1.2)))
        iax.set_xlim(1.0, 1.7)
        iax.set_ylim(ylo, yhi)
        iax.set_xticks([])
        iax.set_yticks([])
        for s in iax.spines.values():
            s.set_linewidth(1.4)
        for txt, col, fx, fy, rot in LABELS[r][c]:
            iax.text(fx, fy, txt, color=col, fontsize=18, rotation=rot, ha='center', va='center',
                     rotation_mode='anchor', transform=iax.transAxes)

# titles and axis labels
for c in range(3):
    xc = (LEFTS[c] + W / 2) / 1200
    fig.text(xc, 1 - 13 / 1553, COL_TITLES[c], ha='center', va='center', fontsize=20)
    fig.text(xc, 1 - 1538 / 1553, r'$\nu_{\rm K}$ [kHz $\times$ $M_{\odot}/M$]', ha='center', va='center', fontsize=19)
for r in range(4):
    yc = 1 - (TOPS[r] + H / 2) / 1553
    fig.text(1183 / 1200, yc, ROW_TITLES[r], rotation=90, ha='center', va='center', fontsize=20)
    fig.text(13 / 1200, yc - 40 / 1553, r'$\nu_{\rm LT}$ [kHz $\times$ $M_{\odot}/M$]', rotation=90, ha='center', va='center', fontsize=17)

fig.savefig('out.png', dpi=100)
